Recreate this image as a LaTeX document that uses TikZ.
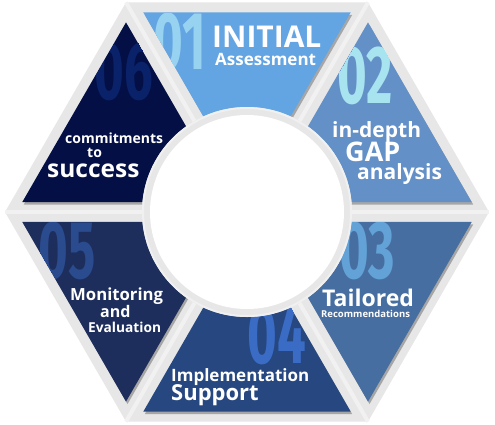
\documentclass[tikz,border=0pt]{standalone}
\usepackage{fontspec}
\setmainfont{Open Sans}
\newfontfamily\numfont{Fira Sans}[UprightFont={* Bold},BoldFont={* Bold}]
\usetikzlibrary{calc,shadows}
\definecolor{gr}{HTML}{E7E7E7}
\definecolor{seamc}{HTML}{F1F1F1}
\definecolor{cA}{HTML}{63A4E2}\definecolor{nA}{HTML}{97D3F0}
\definecolor{cB}{HTML}{6390C6}\definecolor{nB}{HTML}{A8E3F0}
\definecolor{cC}{HTML}{476EA1}\definecolor{nC}{HTML}{63A2D6}
\definecolor{cD}{HTML}{26477F}\definecolor{nD}{HTML}{3A6CC6}
\definecolor{cE}{HTML}{1D2E5D}\definecolor{nE}{HTML}{2B4B8F}
\definecolor{cF}{HTML}{030F45}\definecolor{nF}{HTML}{0A226A}
\newcommand\fsz[1]{\fontsize{#1}{#1}\selectfont}
\begin{document}
\begin{tikzpicture}[x=1pt,y=-1pt,
  seam/.style={seamc,line width=4pt},
  piece/.style={drop shadow={shadow xshift=1.5pt,shadow yshift=-2.5pt,opacity=0.28,fill=black}},
  num/.style={inner sep=0pt,font=\numfont\upshape\fsz{82},xscale=0.62},
  lbl/.style={inner sep=0pt,anchor=base west,text=white,font=\bfseries}]
\useasboundingbox (0,0) rectangle (495,424);
\coordinate (C) at (247,212);
\foreach \i in {0,...,5}
  \coordinate (V\i) at ({247+242*cos(60*\i)},{212-242*sin(60*\i)});
\fill[gr] (V0)--(V1)--(V2)--(V3)--(V4)--(V5)--cycle;
\foreach \i in {0,...,5} \draw[seam] (C)--(V\i);
\foreach \j/\k in {0/1,1/2,2/3,3/4,4/5,5/0}{
  \coordinate (G\j) at ($0.3333*(C)+0.3333*(V\j)+0.3333*(V\k)$);
  \coordinate (A\j) at ($(G\j)!0.857!(C)$);
  \coordinate (B\j) at ($(G\j)!0.857!(V\j)$);
  \coordinate (D\j) at ($(G\j)!0.857!(V\k)$);
}
% pieces: sector j -> colour
\fill[cB,piece] (A0)--(B0)--(D0)--cycle;
\fill[cA,piece] (A1)--(B1)--(D1)--cycle;
\fill[cF,piece] (A2)--(B2)--(D2)--cycle;
\fill[cE,piece] (A3)--(B3)--(D3)--cycle;
\fill[cD,piece] (A4)--(B4)--(D4)--cycle;
\fill[cC,piece] (A5)--(B5)--(D5)--cycle;
% numbers
\begin{scope}\clip (A1)--(B1)--(D1)--cycle;
  \node[num,text=nA] (n01) at (180,41.5) {01};\end{scope}
\begin{scope}\clip (A0)--(B0)--(D0)--cycle;
  \node[num,text=nB] (n02) at (365,76) {02};\end{scope}
\begin{scope}\clip (A5)--(B5)--(D5)--cycle;
  \node[num,text=nC] (n03) at (367.5,251) {03};\end{scope}
\begin{scope}\clip (A4)--(B4)--(D4)--cycle;
  \node[num,text=nD] (n04) at (277,335.5) {04};\end{scope}
\begin{scope}\clip (A3)--(B3)--(D3)--cycle;
  \node[num,text=nE] (n05) at (67,251) {05};\end{scope}
\begin{scope}\clip (A2)--(B2)--(D2)--cycle;
  \node[num,text=nF] (n06) at (124,71.5) {06};\end{scope}
% central circle
\fill[gr] (C) circle[radius=105pt];
\draw[black!6,line width=2pt] (C) circle[radius=104pt];
\fill[white] (C) circle[radius=97pt];
% labels
\node[lbl,font=\bfseries\fsz{30}] (t1a) at (212,47) {INITIAL};
\node[lbl,font=\bfseries\fsz{17}] (t1b) at (215,65) {Assessment};
\node[lbl,font=\bfseries\fsz{21}] (t2a) at (332,137) {in-depth};
\node[lbl,font=\bfseries\fsz{27}] (t2b) at (345,161) {GAP};
\node[lbl,font=\bfseries\fsz{21}] (t2c) at (357,179) {analysis};
\node[lbl,font=\bfseries\fsz{23}] (t3a) at (322,306) {Tailored};
\node[lbl,font=\bfseries\fsz{9.5}] (t3b) at (321,317) {Recommendations};
\node[lbl,font=\bfseries\fsz{17}] (t4a) at (171,381) {Implementation};
\node[lbl,font=\bfseries\fsz{22}] (t4b) at (171,400) {Support};
\node[lbl,font=\bfseries\fsz{16.7}] (t5a) at (70,300) {Monitoring};
\node[lbl,font=\bfseries\fsz{16}] (t5b) at (100,317) {and};
\node[lbl,font=\bfseries\fsz{13.7}] (t5c) at (88,332) {Evaluation};
\node[lbl,font=\bfseries\fsz{14}] (t6a) at (65,143) {commitments};
\node[lbl,font=\bfseries\fsz{14}] (t6b) at (87,157) {to};
\node[lbl,font=\bfseries\fsz{24.5}] (t6c) at (47,177) {success};
\end{tikzpicture}
\end{document}
